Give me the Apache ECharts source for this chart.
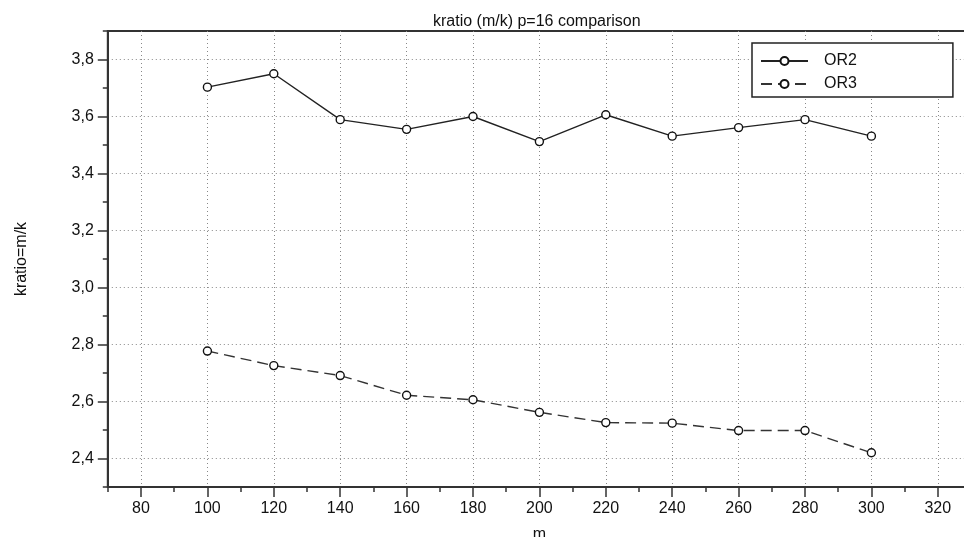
<!DOCTYPE html>
<html>
<head>
<meta charset="utf-8">
<script src="https://cdn.jsdelivr.net/npm/echarts@6/dist/echarts.min.js"></script>
<style>
html,body{margin:0;padding:0;background:#fff;}
#chart{width:964px;height:537px;}
</style>
</head>
<body>
<div id="chart"></div>
<script>
var mValues = [100, 120, 140, 160, 180, 200, 220, 240, 260, 280, 300];
var or2Values = [3.703, 3.750, 3.589, 3.555, 3.600, 3.512, 3.606, 3.531, 3.561, 3.589, 3.531];
var or3Values = [2.777, 2.726, 2.691, 2.622, 2.606, 2.562, 2.526, 2.524, 2.498, 2.498, 2.420];
var seriesNames = ['OR2', 'OR3'];
var xMajorTicks = [80, 100, 120, 140, 160, 180, 200, 220, 240, 260, 280, 300, 320];
var yMajorTicks = [2.4, 2.6, 2.8, 3.0, 3.2, 3.4, 3.6, 3.8];

var FONT = '"Liberation Sans", Arial, Helvetica, sans-serif';

function pairs(xs, ys) {
  return xs.map(function (x, i) { return [x, ys[i]]; });
}
function comma(v, d) { return v.toFixed(d).replace('.', ','); }

var chart = echarts.init(document.getElementById('chart'), null, {renderer: 'canvas'});
var lineCommon = {
  type: 'line',
  symbol: 'circle',
  symbolSize: 8,
  showSymbol: true,
  animation: false,
  itemStyle: {color: '#fff', borderColor: '#111', borderWidth: 1.4},
  emphasis: {disabled: true}
};
var gridLine = {show: true, lineStyle: {color: '#888', width: 1, type: [1, 3]}};
var axisLineStyle = {show: true, onZero: false, lineStyle: {color: '#333', width: 2}};
var labelStyle = {fontFamily: FONT, fontSize: 16, color: '#111'};

chart.setOption({
  animation: false,
  backgroundColor: '#fff',
  title: {
    text: 'kratio (m/k) p=16 comparison',
    left: 428, top: 9,
    textStyle: {fontFamily: FONT, fontSize: 16, fontWeight: 'normal', color: '#111'}
  },
  legend: {
    left: 752, top: 43,
    orient: 'vertical',
    itemWidth: 47, itemHeight: 10, itemGap: 7,
    padding: [10, 96, 5, 8],
    backgroundColor: '#fff',
    borderColor: '#222', borderWidth: 1.5, borderRadius: 0,
    textStyle: {fontFamily: FONT, fontSize: 16, color: '#111', padding: [0, 0, 0, 11]},
    data: seriesNames
  },
  grid: {
    left: 107.8, top: 31, right: -7, bottom: 50,
    show: true, borderColor: '#333', borderWidth: 2, backgroundColor: 'transparent',
    containLabel: false,
    outerBoundsMode: 'none'
  },
  xAxis: [{
    type: 'value', min: 70, max: 330, interval: 10,
    name: 'm', nameLocation: 'middle', nameGap: 40,
    nameTextStyle: labelStyle,
    axisLine: axisLineStyle,
    axisTick: {show: true, inside: false, length: 10, customValues: xMajorTicks, lineStyle: {color: '#333', width: 1.5}},
    axisLabel: Object.assign({margin: 14, customValues: xMajorTicks}, labelStyle),
    splitLine: gridLine
  }, {
    type: 'value', min: 70, max: 330, interval: 10, position: 'bottom',
    axisLine: {show: false},
    axisTick: {show: true, inside: false, length: 5, lineStyle: {color: '#333', width: 1.5}},
    axisLabel: {show: false},
    splitLine: {show: false}
  }],
  yAxis: [{
    type: 'value', min: 2.3, max: 3.9, interval: 0.1,
    name: 'kratio=m/k', nameLocation: 'middle', nameGap: 78, nameRotate: 90,
    nameTextStyle: labelStyle,
    axisLine: axisLineStyle,
    axisTick: {show: true, inside: false, length: 10, customValues: yMajorTicks, lineStyle: {color: '#333', width: 1.5}},
    axisLabel: Object.assign({margin: 14, customValues: yMajorTicks,
      formatter: function (v) { return comma(v, 1); }}, labelStyle),
    splitLine: gridLine
  }, {
    type: 'value', min: 2.3, max: 3.9, interval: 0.1, position: 'left',
    axisLine: {show: false},
    axisTick: {show: true, inside: false, length: 5, lineStyle: {color: '#333', width: 1.5}},
    axisLabel: {show: false},
    splitLine: {show: false}
  }],
  series: [
    Object.assign({}, lineCommon, {
      name: seriesNames[0],
      data: pairs(mValues, or2Values),
      lineStyle: {color: '#222', width: 1.4, type: 'solid'}
    }),
    Object.assign({}, lineCommon, {
      name: seriesNames[1],
      data: pairs(mValues, or3Values),
      lineStyle: {color: '#333', width: 1.4, type: [11, 6]}
    })
  ]
});
</script>
</body>
</html>
